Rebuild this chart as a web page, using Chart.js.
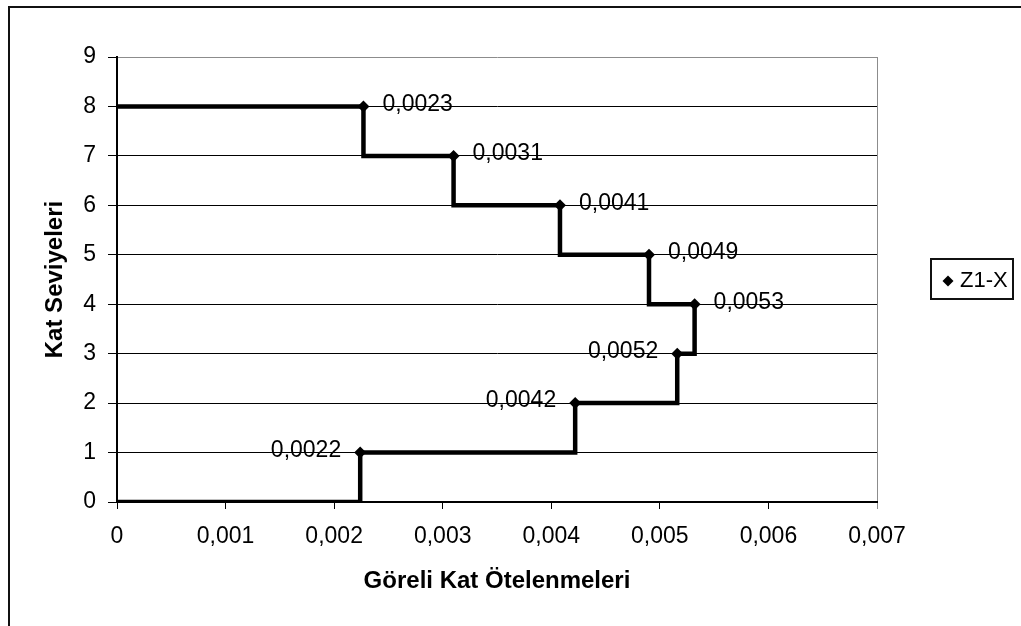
<!DOCTYPE html>
<html>
<head>
<meta charset="utf-8">
<script src="https://cdn.jsdelivr.net/npm/chart.js@4/dist/chart.umd.min.js"></script>
<style>
  body { margin: 0; background: #fff; }
  canvas { display: block; }
</style>
</head>
<body>
<canvas id="katChart" width="1021" height="626"></canvas>
<script>
// ─── Dados ──────────────────────────────────────────────────────────────
const seriesName  = 'Z1-X';
const floors      = [8, 7, 6, 5, 4, 3, 2, 1];
const drifts      = [0.00227, 0.0031, 0.00408, 0.0049, 0.00532, 0.00516, 0.00422, 0.00224];
const xTickLabels = ['0', '0,001', '0,002', '0,003', '0,004', '0,005', '0,006', '0,007'];
const yTickLabels = ['0', '1', '2', '3', '4', '5', '6', '7', '8', '9'];
const labelSide   = ['right', 'right', 'right', 'right', 'right', 'left', 'left', 'left'];

const FONT = '"Liberation Sans", Arial, sans-serif';

// pontos do gráfico (marcadores)
const points = floors.map((f, i) => ({ x: drifts[i], y: f }));

// linha em degraus construída a partir dos mesmos dados
const stepPts = [{ x: 0, y: floors[0] }];
floors.forEach((f, i) => {
  stepPts.push({ x: drifts[i], y: f });
  stepPts.push({ x: drifts[i], y: f - 1 });
});
stepPts.push({ x: 0, y: 0 });

// ─── Plugins ─────────────────────────────────────────────────────────────
const framePlugin = {
  id: 'frame',
  beforeDraw(chart) {
    const c = chart.ctx;
    c.save();
    c.fillStyle = '#fff';
    c.fillRect(0, 0, chart.width, chart.height);
    c.strokeStyle = '#111';
    c.lineWidth = 2;
    c.strokeRect(9, 7, chart.width + 20, chart.height + 20);
    c.restore();
  }
};

const valueLabels = {
  id: 'valueLabels',
  afterDatasetsDraw(chart) {
    const c = chart.ctx;
    const meta = chart.getDatasetMeta(0);
    c.save();
    c.font = '23px ' + FONT;
    c.fillStyle = '#000';
    c.textBaseline = 'middle';
    meta.data.forEach((pt, i) => {
      const txt = drifts[i].toFixed(4).replace('.', ',');
      if (labelSide[i] === 'right') {
        c.textAlign = 'left';
        c.fillText(txt, pt.x + 19, pt.y - 2);
      } else {
        c.textAlign = 'right';
        c.fillText(txt, pt.x - 19, pt.y - 2);
      }
    });
    c.restore();
  }
};

const boxLegend = {
  id: 'boxLegend',
  afterDraw(chart) {
    const c = chart.ctx;
    c.save();
    c.strokeStyle = '#111';
    c.lineWidth = 2;
    c.strokeRect(931, 259, 82, 40);
    // losango
    const cx = 948, cy = 281, r = 5.5;
    c.fillStyle = '#000';
    c.beginPath();
    c.moveTo(cx, cy - r);
    c.lineTo(cx + r, cy);
    c.lineTo(cx, cy + r);
    c.lineTo(cx - r, cy);
    c.closePath();
    c.fill();
    c.font = '22px ' + FONT;
    c.textAlign = 'left';
    c.textBaseline = 'middle';
    c.fillText(chart.data.datasets[0].label, 960, cy);
    c.restore();
  }
};

// ─── Gráfico ─────────────────────────────────────────────────────────────
const ctx = document.getElementById('katChart').getContext('2d');
new Chart(ctx, {
  type: 'scatter',
  data: {
    datasets: [{
      label: seriesName,
      data: points,
      pointStyle: 'rectRot',
      pointRadius: 6,
      pointBackgroundColor: '#000',
      pointBorderColor: '#000',
      pointBorderWidth: 0,
      showLine: false
    }, {
      label: 'degraus',
      data: stepPts,
      showLine: true,
      pointRadius: 0,
      borderColor: '#000',
      borderWidth: 4.5,
      borderJoinStyle: 'miter',
      tension: 0,
      fill: false
    }]
  },
  options: {
    responsive: false,
    animation: false,
    layout: { padding: { left: 0, top: 57, right: 144, bottom: 0 } },
    plugins: {
      legend: { display: false },
      tooltip: { enabled: false }
    },
    scales: {
      x: {
        type: 'linear',
        min: 0,
        max: 0.007,
        afterFit(s) { s.height = 124; },
        afterBuildTicks(s) {
          s.ticks = xTickLabels.map((_, i) => ({ value: i * 0.001 }));
        },
        ticks: {
          autoSkip: false,
          maxRotation: 0,
          padding: 14,
          color: '#000',
          font: { family: FONT, size: 23 },
          callback: (v, i) => xTickLabels[i]
        },
        grid: {
          drawOnChartArea: true,
          tickLength: 7,
          lineWidth: 1,
          color: c => (c.index === xTickLabels.length - 1 ? '#8c8c8c' : 'rgba(0,0,0,0)'),
          tickColor: c => (c.index === xTickLabels.length - 1 ? '#8c8c8c' : '#000')
        },
        border: { color: '#000', width: 2 },
        title: {
          display: true,
          text: 'Göreli Kat Ötelenmeleri',
          color: '#000',
          font: { family: FONT, size: 24, weight: 'bold' },
          padding: { top: 0, bottom: 30 }
        }
      },
      y: {
        min: 0,
        max: 9,
        afterFit(s) { s.width = 117; },
        ticks: {
          stepSize: 1,
          padding: 12,
          color: '#000',
          font: { family: FONT, size: 23 },
          callback: (v, i) => yTickLabels[i]
        },
        grid: {
          tickLength: 9,
          lineWidth: 1,
          color: c => (c.tick && c.tick.value === 9 ? '#8c8c8c' : '#000'),
          tickColor: '#000'
        },
        border: { color: '#000', width: 2 },
        title: {
          display: true,
          text: 'Kat Seviyeleri',
          color: '#000',
          font: { family: FONT, size: 24, weight: 'bold' },
          padding: { top: 41, bottom: 0 }
        }
      }
    }
  },
  plugins: [framePlugin, valueLabels, boxLegend]
});
</script>
</body>
</html>
